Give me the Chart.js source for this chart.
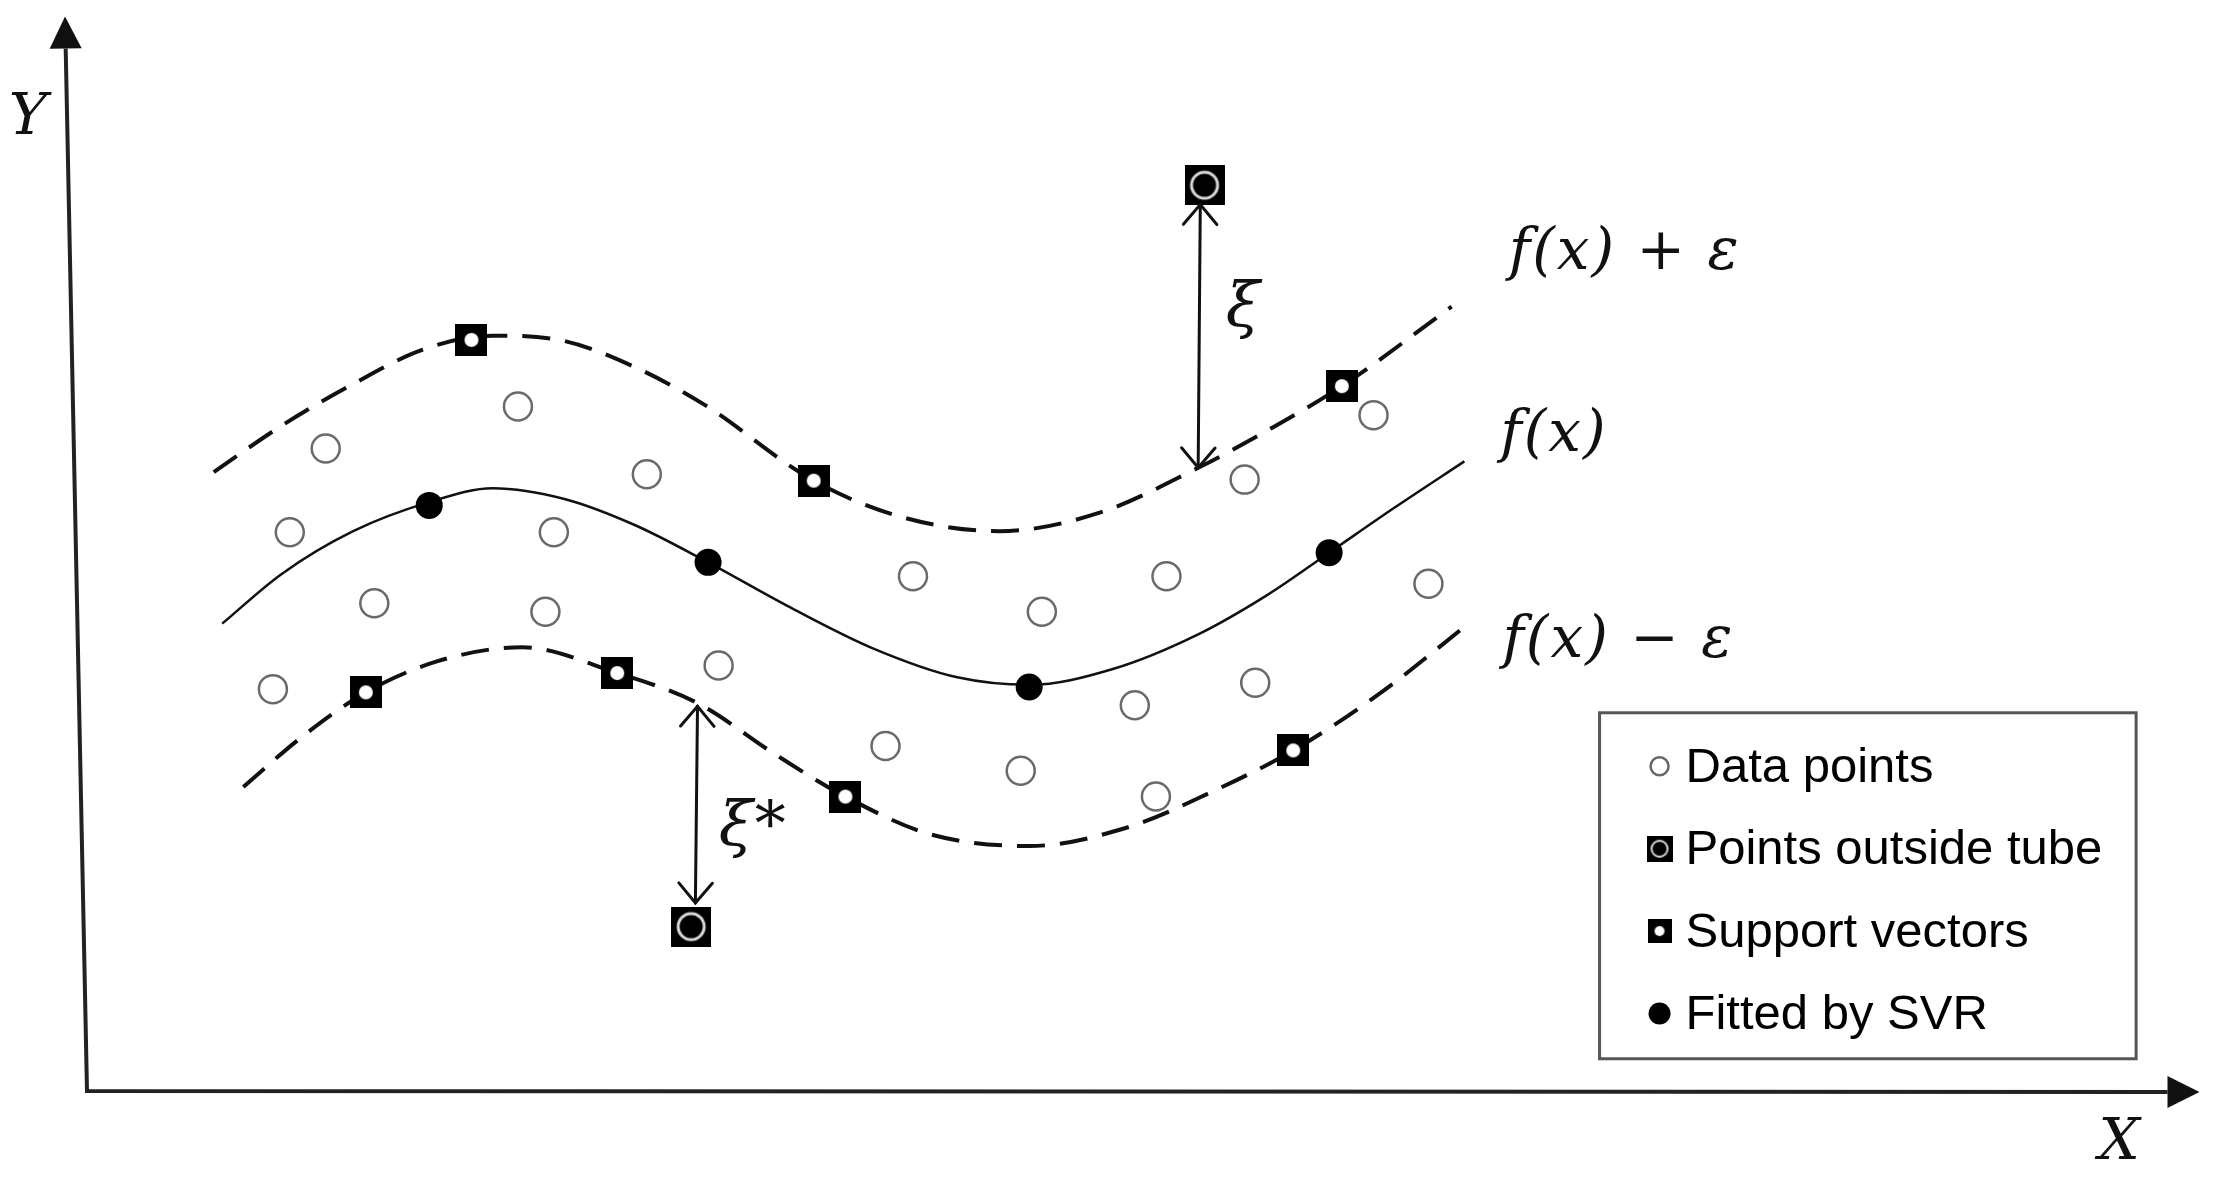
<!DOCTYPE html>
<html>
<head>
<meta charset="utf-8">
<script src="https://cdn.jsdelivr.net/npm/chart.js@4.4.1/dist/chart.umd.min.js"></script>
<style>
  html, body { margin: 0; padding: 0; background: #fff; }
  #wrap { position: relative; width: 2216px; height: 1178px; }
</style>
</head>
<body>
<div id="wrap"><canvas id="svrChart"></canvas></div>
<script>
// sketch units: x runs 0..100 along the X axis, y runs 0..100 up the Y axis
const upperTube = [[6.0,57.6],[9.2,61.9],[12.6,65.8],[15.9,69.0],[19.2,70.3],[22.6,69.8],[25.9,67.4],[29.2,63.9],
  [34.4,56.8],[38.6,53.4],[43.2,52.1],[47.9,53.8],[52.6,58.0],[55.9,61.5],[59.4,65.6],[64.6,73.0]];
const fitCurve = [[6.4,43.5],[9.2,48.1],[12.6,52.1],[16.2,54.8],[19.2,56.1],[22.6,55.1],[25.9,52.7],[29.4,49.2],
  [33.2,45.1],[37.2,41.2],[41.2,38.5],[44.6,37.8],[48.6,39.3],[52.6,42.5],[55.9,46.2],[58.8,50.1],[61.9,54.3],[65.2,58.6]];
const lowerTube = [[7.4,28.3],[10.2,33.0],[13.2,37.1],[16.6,40.0],[20.6,41.3],[25.1,38.9],[28.9,36.1],[32.6,31.3],
  [35.9,27.4],[39.9,23.9],[44.6,22.8],[49.2,24.5],[53.2,27.8],[57.1,31.7],[61.2,37.0],[65.4,43.5]];

const dataPoints = [[11.3,59.8],[20.4,63.7],[26.5,57.4],[9.6,52.0],[22.1,52.0],[13.6,45.4],[21.7,44.6],[39.1,47.9],
  [45.2,44.6],[51.1,47.9],[54.8,56.9],[60.9,62.9],[63.5,47.2],[8.8,37.4],[29.9,39.6],[37.8,32.1],[44.2,29.8],
  [49.6,35.9],[55.3,38.0],[50.6,27.4]];
const fittedPoints = [[16.2,54.5],[29.4,49.2],[44.6,37.6],[58.8,50.1]];
const supportVectors = [[18.2,69.9],[34.4,56.8],[59.4,65.6],[13.2,37.1],[25.1,38.9],[35.9,27.4],[57.1,31.7]];
const outsidePoints = [[52.9,84.3],[28.6,15.3]];

// slack arrows (from, to) and their labels
const slackArrows = [[[52.7,82.5],[52.6,58.0]], [[28.9,35.8],[28.8,17.5]]];
const slackLabels = [['ξ', 53.9, 72.7], ['ξ*', 29.9, 24.4]];
const curveLabels = [['f(x) + ε', 67.3, 77.9], ['f(x)', 66.9, 61.0], ['f(x) − ε', 67.0, 41.8]];
const axisLabels = [['X', 96.2, -4.9], ['Y', -2.8, 90.5]];

const legendLabels = ['Data points', 'Points outside tube', 'Support vectors', 'Fitted by SVR'];
const legendBox = [71.6, 35.2, 97.0, 3.0]; // left, top, right, bottom
const axisYTip = [-1.04, 100];
const axisXTip = [100, -0.1];

const toXY = (arr) => arr.map(([x, y]) => ({ x, y }));

function squareMarker(size, inner) {
  const c = document.createElement('canvas');
  c.width = size; c.height = size;
  const g = c.getContext('2d');
  g.fillStyle = '#000';
  g.fillRect(0, 0, size, size);
  inner(g, size / 2);
  return c;
}
const dotInside = (r) => (g, m) => {
  g.fillStyle = '#fff';
  g.beginPath(); g.arc(m, m, r, 0, Math.PI * 2); g.fill();
};
const ringInside = (r, w) => (g, m) => {
  g.strokeStyle = '#d8d8d8'; g.lineWidth = w;
  g.beginPath(); g.arc(m, m, r, 0, Math.PI * 2); g.stroke();
};
const supportImg = squareMarker(32, dotInside(7));
const outsideImg = squareMarker(40, ringInside(13, 3));
const supportLegendImg = squareMarker(24, dotInside(5));
const outsideLegendImg = squareMarker(26, ringInside(8, 2));

function px(chart, p) {
  return [chart.scales.x.getPixelForValue(p[0]), chart.scales.y.getPixelForValue(p[1])];
}

function filledHead(ctx, from, to, len, half) {
  const dx = to[0] - from[0], dy = to[1] - from[1];
  const d = Math.hypot(dx, dy), ux = dx / d, uy = dy / d;
  const bx = to[0] - ux * len, by = to[1] - uy * len;
  ctx.beginPath();
  ctx.moveTo(to[0], to[1]);
  ctx.lineTo(bx - uy * half, by + ux * half);
  ctx.lineTo(bx + uy * half, by - ux * half);
  ctx.closePath();
  ctx.fill();
  return [bx, by];
}

function openHead(ctx, from, to, len, ang) {
  const a = Math.atan2(to[1] - from[1], to[0] - from[0]);
  ctx.beginPath();
  ctx.moveTo(to[0] - len * Math.cos(a - ang), to[1] - len * Math.sin(a - ang));
  ctx.lineTo(to[0], to[1]);
  ctx.lineTo(to[0] - len * Math.cos(a + ang), to[1] - len * Math.sin(a + ang));
  ctx.stroke();
}

const MATH_FONT = 'italic 58px "DejaVu Serif"';

const sketchPlugin = {
  id: 'sketch',
  beforeDatasetsDraw(chart) {
    const ctx = chart.ctx;
    const o = px(chart, [0, 0]);
    const yt = px(chart, axisYTip);
    const xt = px(chart, axisXTip);
    ctx.save();
    ctx.fillStyle = '#111';
    ctx.strokeStyle = '#222';
    ctx.lineWidth = 4;
    const yb = filledHead(ctx, o, yt, 32, 16);
    const xb = filledHead(ctx, o, xt, 32, 16);
    ctx.beginPath();
    ctx.moveTo(yb[0], yb[1]);
    ctx.lineTo(o[0], o[1]);
    ctx.lineTo(xb[0], xb[1]);
    ctx.stroke();
    ctx.font = MATH_FONT;
    ctx.textAlign = 'center';
    ctx.textBaseline = 'middle';
    axisLabels.forEach(([t, x, y]) => {
      const p = px(chart, [x, y]);
      ctx.fillText(t, p[0], p[1]);
    });
    ctx.restore();
  },
  afterDatasetsDraw(chart) {
    const ctx = chart.ctx;
    ctx.save();
    // slack arrows
    ctx.strokeStyle = '#111';
    ctx.lineWidth = 3;
    ctx.lineCap = 'round';
    slackArrows.forEach(([a, b]) => {
      const p = px(chart, a), q = px(chart, b);
      ctx.beginPath(); ctx.moveTo(p[0], p[1]); ctx.lineTo(q[0], q[1]); ctx.stroke();
      openHead(ctx, q, p, 26, 0.7);
      openHead(ctx, p, q, 26, 0.7);
    });
    // math labels
    ctx.fillStyle = '#111';
    ctx.textBaseline = 'middle';
    ctx.textAlign = 'left';
    ctx.font = MATH_FONT;
    ctx.letterSpacing = '2px';
    curveLabels.forEach(([t, x, y]) => {
      const p = px(chart, [x, y]);
      ctx.fillText(t, p[0], p[1]);
    });
    ctx.font = 'italic 62px "DejaVu Serif"';
    slackLabels.forEach(([t, x, y]) => {
      const p = px(chart, [x, y]);
      ctx.fillText(t, p[0], p[1]);
    });
    ctx.letterSpacing = '0px';
    // legend
    const tl = px(chart, [legendBox[0], legendBox[1]]);
    const br = px(chart, [legendBox[2], legendBox[3]]);
    ctx.fillStyle = '#fff';
    ctx.fillRect(tl[0], tl[1], br[0] - tl[0], br[1] - tl[1]);
    ctx.strokeStyle = '#555';
    ctx.lineWidth = 3;
    ctx.strokeRect(tl[0], tl[1], br[0] - tl[0], br[1] - tl[1]);
    const rowH = (br[1] - tl[1]) / 4.2;
    const mx = tl[0] + 60, tx = tl[0] + 86;
    ctx.font = '49px "Liberation Sans"';
    legendLabels.forEach((label, i) => {
      const y = tl[1] + rowH * (i + 0.65);
      if (i === 0) {
        ctx.fillStyle = '#fff'; ctx.strokeStyle = '#666'; ctx.lineWidth = 2.5;
        ctx.beginPath(); ctx.arc(mx, y, 9, 0, Math.PI * 2); ctx.fill(); ctx.stroke();
      } else if (i === 1) {
        ctx.drawImage(outsideLegendImg, mx - 13, y - 13);
      } else if (i === 2) {
        ctx.drawImage(supportLegendImg, mx - 12, y - 12);
      } else {
        ctx.fillStyle = '#000';
        ctx.beginPath(); ctx.arc(mx, y, 11, 0, Math.PI * 2); ctx.fill();
      }
      ctx.fillStyle = '#000';
      ctx.fillText(label, tx, y + 2);
    });
    ctx.restore();
  }
};

const curveStyle = (data, dash, width) => ({
  data: toXY(data),
  showLine: true,
  borderColor: '#111',
  borderWidth: width,
  borderDash: dash,
  pointRadius: 0,
  cubicInterpolationMode: 'monotone',
  order: 10,
});

new Chart(document.getElementById('svrChart'), {
  type: 'scatter',
  data: {
    datasets: [
      curveStyle(upperTube, [28, 15], 4),
      curveStyle(fitCurve, [], 2.5),
      curveStyle(lowerTube, [28, 15], 4),
      { data: toXY(dataPoints), pointStyle: 'circle', pointRadius: 14, backgroundColor: '#fff',
        borderColor: '#6a6a6a', borderWidth: 2.5, order: 2 },
      { data: toXY(fittedPoints), pointStyle: 'circle', pointRadius: 13.5, backgroundColor: '#000',
        borderColor: '#000', borderWidth: 0, order: 1 },
      { data: toXY(supportVectors), pointStyle: supportImg, order: 1 },
      { data: toXY(outsidePoints), pointStyle: outsideImg, order: 1 },
    ],
  },
  options: {
    responsive: true,
    maintainAspectRatio: false,
    animation: false,
    layout: { padding: { left: 87, right: 9, top: 13, bottom: 87 } },
    plugins: { legend: { display: false }, tooltip: { enabled: false } },
    scales: {
      x: { type: 'linear', min: 0, max: 100, display: false },
      y: { type: 'linear', min: 0, max: 100, display: false },
    },
  },
  plugins: [sketchPlugin],
});
</script>
</body>
</html>
